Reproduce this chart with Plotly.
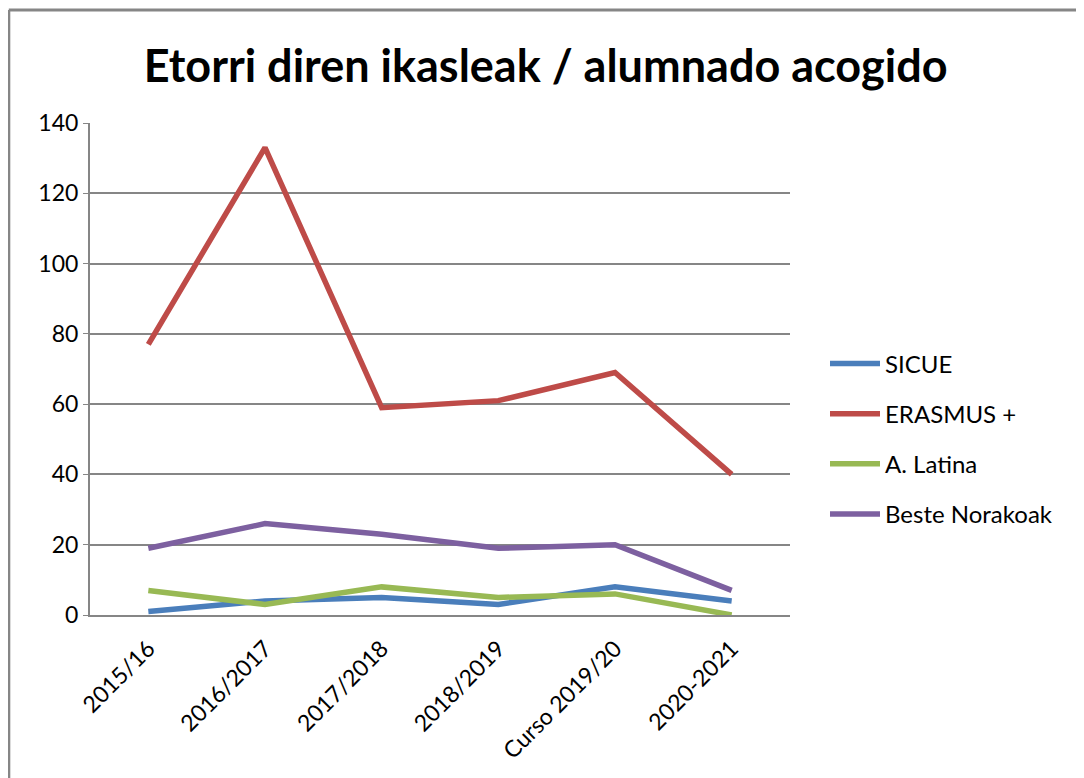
import plotly.graph_objects as go

categories = ["2015/16", "2016/2017", "2017/2018", "2018/2019", "Curso 2019/20", "2020-2021"]
sicue = [1, 4, 5, 3, 8, 4]
erasmus = [77, 133, 59, 61, 69, 40]
alatina = [7, 3, 8, 5, 6, 0]
beste = [19, 26, 23, 19, 20, 7]

series = [
    ("SICUE", sicue, "#4A7EBB"),
    ("ERASMUS +", erasmus, "#BE4B48"),
    ("A. Latina", alatina, "#98B954"),
    ("Beste Norakoak", beste, "#7D60A0"),
]

FONT = "Lato, 'Open Sans', sans-serif"

fig = go.Figure()
for i, (name, vals, col) in enumerate(series):
    fig.add_trace(go.Scatter(
        x=list(range(len(categories))), y=vals, mode="lines", name=name,
        line=dict(color=col, width=5.5), legendgroup=str(i),
    ))

fig.update_layout(
    width=1084, height=778,
    paper_bgcolor="white", plot_bgcolor="white",
    margin=dict(l=82, r=302, t=115, b=171),
    title=dict(text="<b>Etorri diren ikasleak / alumnado acogido</b>",
               x=0.651, xanchor="center", xref="paper", y=0.925, yanchor="middle",
               font=dict(family=FONT, size=45, color="black")),
    font=dict(family=FONT, color="black"),
    legend=dict(x=1.05, xanchor="left", y=0.358, yanchor="middle",
                font=dict(family=FONT, size=24, color="black"),
                tracegroupgap=16, itemwidth=50, bgcolor="rgba(0,0,0,0)"),
    showlegend=True,
)
fig.update_xaxes(
    tickmode="array", tickvals=list(range(len(categories))), ticktext=categories,
    range=[-0.5, len(categories) - 0.5], tickangle=-45,
    tickfont=dict(family=FONT, size=23, color="black"),
    showline=True, linecolor="#868686", linewidth=2, showgrid=False,
    ticks="", zeroline=False, ticklabelstandoff=9,
)
fig.update_yaxes(
    range=[0, 140], dtick=20,
    tickfont=dict(family=FONT, size=23, color="black"),
    showline=True, linecolor="#868686", linewidth=2,
    showgrid=True, gridcolor="#868686", gridwidth=2,
    ticks="outside", ticklen=5, tickcolor="#868686", zeroline=False,
)
# chart frame (top and left edges visible)
fig.add_shape(type="line", xref="paper", yref="paper", x0=-0.116, x1=1.6, y0=1.2297, y1=1.2297,
              line=dict(color="#868686", width=3))
fig.add_shape(type="line", xref="paper", yref="paper", x0=-0.116, x1=-0.116, y0=1.2297, y1=-0.5,
              line=dict(color="#868686", width=3))

fig.write_html("out.html")
